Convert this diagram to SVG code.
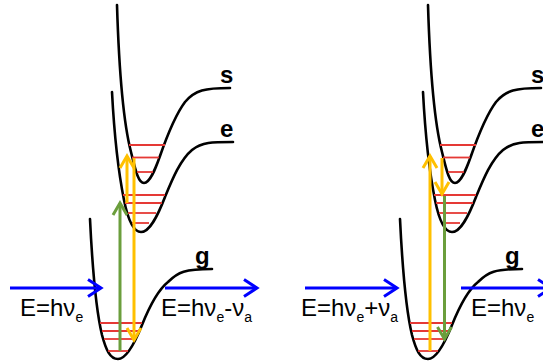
<svg xmlns="http://www.w3.org/2000/svg" width="543" height="362" viewBox="0 0 543 362">
<style>
.curve{fill:none;stroke:#000;stroke-width:2.6;stroke-linecap:round}
.lvl{stroke:#E53935;stroke-width:1.8}
.lbl{font-family:"Liberation Sans",Arial,sans-serif;font-weight:bold;font-size:24px;fill:#000}
.eq{font-family:"Liberation Sans",Arial,sans-serif;font-size:24px;fill:#000}
.sub{font-size:14px}
.blue{stroke:#0000FF;stroke-width:3;fill:none}
.yel{stroke:#FFC000;stroke-width:3;fill:none}
.grn{stroke:#6B9E3C;stroke-width:3;fill:none}
</style>
<defs>
<marker id="mb" viewBox="-16 -12 20 24" refX="0" refY="0" markerWidth="20" markerHeight="24" markerUnits="userSpaceOnUse" orient="auto"><path d="M-13,-8.5 L0,0 L-13,8.5" fill="none" stroke="#0000FF" stroke-width="3"/></marker>
<marker id="my" viewBox="-16 -12 20 24" refX="0" refY="0" markerWidth="20" markerHeight="24" markerUnits="userSpaceOnUse" orient="auto"><path d="M-12,-7 L0,0 L-12,7" fill="none" stroke="#FFC000" stroke-width="3"/></marker>
<marker id="mg" viewBox="-16 -12 20 24" refX="0" refY="0" markerWidth="20" markerHeight="24" markerUnits="userSpaceOnUse" orient="auto"><path d="M-12,-7 L0,0 L-12,7" fill="none" stroke="#6B9E3C" stroke-width="3"/></marker>
</defs>

<g id="left-panel">
  <g id="s-curve-left">
    <path class="curve" d="M117,5 C119,70 124,125 131,152 C135,168 138,183 144,183 C150,183 155,170 160,156 C167,136 176,114 185,102 C195,90 205,88 230,88"/>
    <line class="lvl" x1="129" y1="145" x2="165" y2="145"/>
    <line class="lvl" x1="132" y1="157.5" x2="159" y2="157.5"/>
    <line class="lvl" x1="137" y1="172" x2="153" y2="172"/>
    <text class="lbl" x="220" y="83">s</text>
  </g>
  <g id="e-curve-left">
    <path class="curve" d="M112,92 C114,130 119,175 124,200 C128,220 133,232 141,232 C150,232 158,215 165,197 C172,180 180,160 192,150 C202,142 212,142 233,142"/>
    <line class="lvl" x1="123" y1="195" x2="165" y2="195"/>
    <line class="lvl" x1="125" y1="203" x2="162" y2="203"/>
    <line class="lvl" x1="128" y1="213" x2="156" y2="213"/>
    <line class="lvl" x1="132" y1="223" x2="149" y2="223"/>
    <text class="lbl" x="220" y="137">e</text>
  </g>
  <g id="g-curve-left">
    <path class="curve" d="M90,219 C92,260 96,310 102,335 C106,350 110,359 118,359 C126,359 134,345 142,325 C150,305 158,290 168,282 C178,272 185,269 212,269"/>
    <line class="lvl" x1="100" y1="323" x2="142" y2="323"/>
    <line class="lvl" x1="102" y1="331" x2="139" y2="331"/>
    <line class="lvl" x1="104" y1="339" x2="135" y2="339"/>
    <line class="lvl" x1="108" y1="351" x2="128" y2="351"/>
    <text class="lbl" x="195" y="264">g</text>
  </g>
  <text id="label-in-left" class="eq" x="20" y="316">E=hν<tspan class="sub" dy="6">e</tspan></text>
  <text id="label-out-left" class="eq" x="161" y="316">E=hν<tspan class="sub" dy="6">e</tspan><tspan dy="-6">-ν</tspan><tspan class="sub" dy="6">a</tspan></text>
</g>

<g id="right-panel">
  <g id="s-curve-right" transform="translate(311,0)">
    <path class="curve" d="M117,5 C119,70 124,125 131,152 C135,168 138,183 144,183 C150,183 155,170 160,156 C167,136 176,114 185,102 C195,90 205,88 230,88"/>
    <line class="lvl" x1="129" y1="145" x2="165" y2="145"/>
    <line class="lvl" x1="132" y1="157.5" x2="159" y2="157.5"/>
    <line class="lvl" x1="137" y1="172" x2="153" y2="172"/>
    <text class="lbl" x="220" y="83">s</text>
  </g>
  <g id="e-curve-right" transform="translate(311,0)">
    <path class="curve" d="M112,92 C114,130 119,175 124,200 C128,220 133,232 141,232 C150,232 158,215 165,197 C172,180 180,160 192,150 C202,142 212,142 233,142"/>
    <line class="lvl" x1="123" y1="195" x2="165" y2="195"/>
    <line class="lvl" x1="125" y1="203" x2="162" y2="203"/>
    <line class="lvl" x1="128" y1="213" x2="156" y2="213"/>
    <line class="lvl" x1="132" y1="223" x2="149" y2="223"/>
    <text class="lbl" x="220" y="137">e</text>
  </g>
  <g id="g-curve-right" transform="translate(310,0)">
    <path class="curve" d="M90,219 C92,260 96,310 102,335 C106,350 110,359 118,359 C126,359 134,345 142,325 C150,305 158,290 168,282 C178,272 185,269 212,269"/>
    <line class="lvl" x1="100" y1="323" x2="142" y2="323"/>
    <line class="lvl" x1="102" y1="331" x2="139" y2="331"/>
    <line class="lvl" x1="104" y1="339" x2="135" y2="339"/>
    <line class="lvl" x1="108" y1="351" x2="128" y2="351"/>
    <text class="lbl" x="195" y="264">g</text>
  </g>
  <text id="label-in-right" class="eq" x="301" y="316">E=hν<tspan class="sub" dy="6">e</tspan><tspan dy="-6">+ν</tspan><tspan class="sub" dy="6">a</tspan></text>
  <text id="label-out-right" class="eq" x="471" y="316">E=hν<tspan class="sub" dy="6">e</tspan></text>
</g>

<g id="connectors">
  <path class="grn" d="M120,351 L120,203" marker-end="url(#mg)"/>
  <path class="yel" d="M127,203 L127,156" marker-end="url(#my)"/>
  <path class="yel" d="M134,158 L134,340" marker-end="url(#my)"/>
  <path class="blue" d="M10,288 L101,288" marker-end="url(#mb)"/>
  <path class="blue" d="M165,288 L257,288" marker-end="url(#mb)"/>

  <path class="yel" d="M430,351 L430,156" marker-end="url(#my)"/>
  <path class="yel" d="M442,158 L442,194" marker-end="url(#my)"/>
  <path class="grn" d="M444.5,196 L444.5,339" marker-end="url(#mg)"/>
  <path class="blue" d="M305,288 L397,288" marker-end="url(#mb)"/>
  <path class="blue" d="M461,288 L551,288" marker-end="url(#mb)"/>
</g>
</svg>
